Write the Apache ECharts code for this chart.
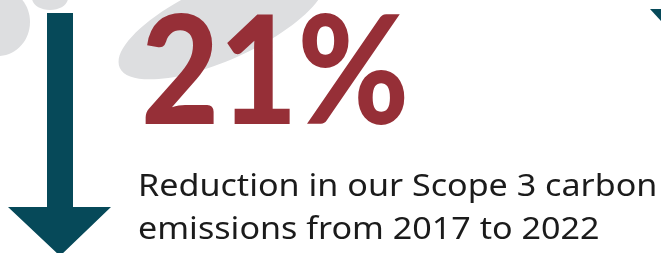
<!DOCTYPE html>
<html><head><meta charset="utf-8">
<script src="https://cdn.jsdelivr.net/npm/echarts@6/dist/echarts.min.js"></script>
<style>html,body{margin:0;padding:0;background:#fff}#c{width:661px;height:253px}</style>
</head><body><div id="c"></div>
<script>
var headline = ['21%'];
var captionLines = ['Reduction in our Scope 3 carbon', 'emissions from 2017 to 2022'];
var RED = '#962f37', TEAL = '#064959', GRAY = '#dddee0';
var chart = echarts.init(document.getElementById('c'), null, {renderer:'canvas'});
var g = [];
// background blobs
g.push({type:'ellipse', shape:{cx:0, cy:0, rx:112, ry:38}, x:222, y:22, rotation:0.42, style:{fill:GRAY}, z:0});
g.push({type:'ellipse', shape:{cx:0, cy:0, rx:32, ry:34}, x:-2, y:22, style:{fill:GRAY}, z:0});
g.push({type:'ellipse', shape:{cx:0, cy:0, rx:18, ry:12}, x:50, y:-2, style:{fill:GRAY}, z:0});
// big down arrow
g.push({type:'polygon', shape:{points:[[47,13],[73,13],[73,207],[111,207],[60,256],[8,207],[47,207]]}, style:{fill:TEAL}, z:2});
// corner arrow fragment
g.push({type:'polygon', shape:{points:[[650,9],[661,9],[661,21]]}, style:{fill:TEAL}, z:2});
// headline
g.push({type:'text', x:141, y:151, scaleX:0.9, scaleY:1.0, style:{text:headline[0], fill:RED, font:'900 150px Lato', textAlign:'left', textVerticalAlign:'bottom'}, z:3});
// caption
captionLines.forEach(function(t,i){
  g.push({type:'text', x:138, y:203 + i*43, scaleX:1.1, style:{text:t, fill:'#1b1b1b', font:'400 31px "Noto Sans"', textAlign:'left', textVerticalAlign:'bottom'}, z:3});
});
chart.setOption({animation:false, graphic:{elements:g}});
</script></body></html>
